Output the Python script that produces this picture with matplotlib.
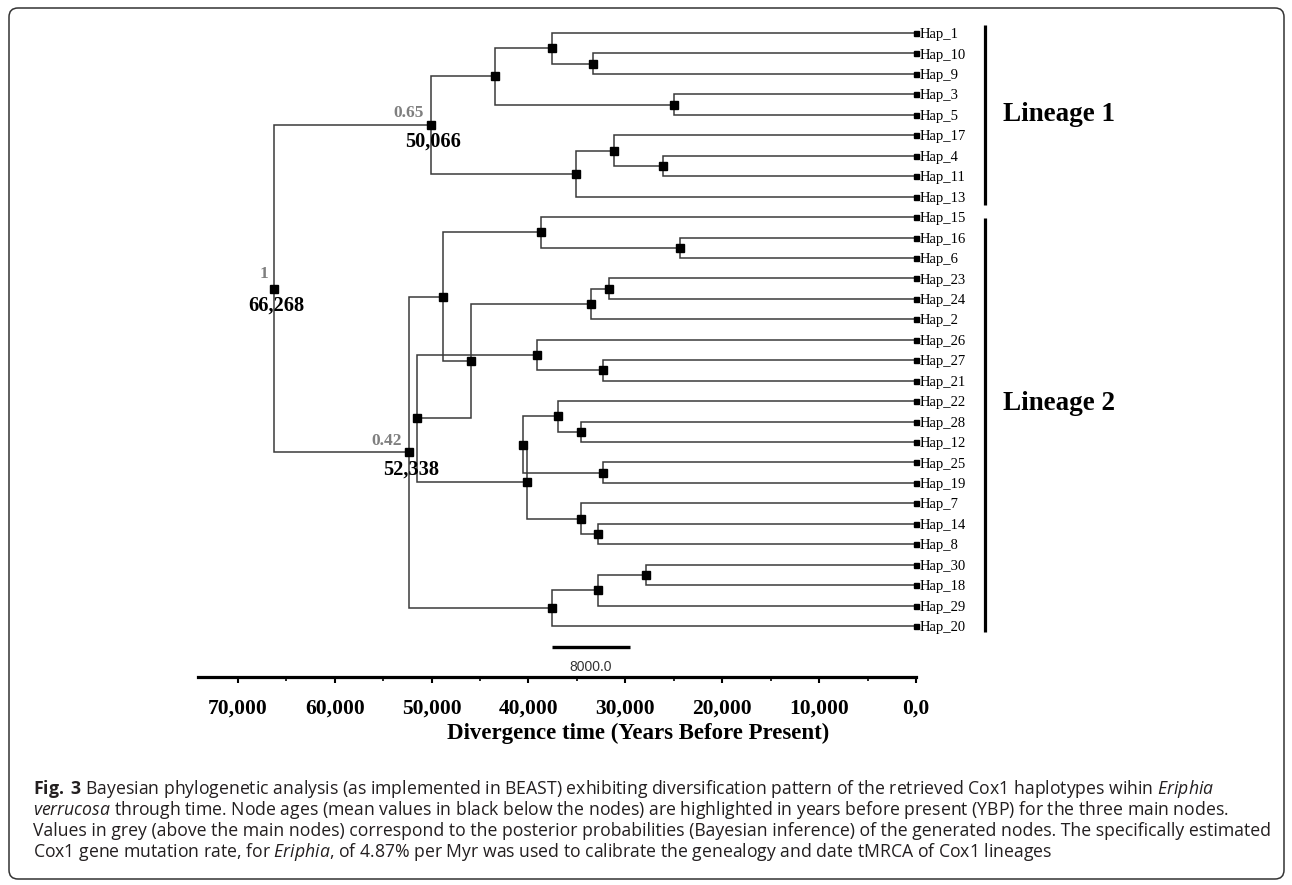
import matplotlib
matplotlib.use("Agg")
import matplotlib.pyplot as plt
from matplotlib.patches import FancyBboxPatch
from matplotlib.transforms import IdentityTransform

# haplotypes, top to bottom
tip_labels = ["Hap_1", "Hap_10", "Hap_9", "Hap_3", "Hap_5", "Hap_17", "Hap_4", "Hap_11", "Hap_13",
              "Hap_15", "Hap_16", "Hap_6", "Hap_23", "Hap_24", "Hap_2", "Hap_26", "Hap_27", "Hap_21",
              "Hap_22", "Hap_28", "Hap_12", "Hap_25", "Hap_19", "Hap_7", "Hap_14", "Hap_8",
              "Hap_30", "Hap_18", "Hap_29", "Hap_20"]

# internal nodes: age in years before present + children
node_names = ["root", "L1", "A", "B", "C", "D", "E", "F", "G",
              "L2", "N1", "N1a", "N1b", "N2", "N2a", "N2b", "N3", "N3a", "N3b",
              "Q", "P", "P1", "P1a", "P2", "R", "R2", "N7", "S", "T"]
node_ages = [66268, 50066, 43450, 37570, 33340, 24980, 35100, 31170, 26120,
             52338, 48820, 38710, 24360, 45930, 33550, 31690, 51510, 39120, 32310,
             40150, 40570, 36950, 34580, 32310, 34580, 32820, 37570, 32820, 27870]
node_children = [["L1", "L2"], ["A", "E"], ["B", "D"], ["Hap_1", "C"], ["Hap_10", "Hap_9"],
                 ["Hap_3", "Hap_5"], ["F", "Hap_13"], ["Hap_17", "G"], ["Hap_4", "Hap_11"],
                 ["N1", "N7"], ["N1a", "N2"], ["Hap_15", "N1b"], ["Hap_16", "Hap_6"],
                 ["N2a", "N3"], ["N2b", "Hap_2"], ["Hap_23", "Hap_24"], ["N3a", "Q"],
                 ["Hap_26", "N3b"], ["Hap_27", "Hap_21"], ["P", "R"], ["P1", "P2"],
                 ["Hap_22", "P1a"], ["Hap_28", "Hap_12"], ["Hap_25", "Hap_19"],
                 ["Hap_7", "R2"], ["Hap_14", "Hap_8"], ["S", "Hap_20"], ["T", "Hap_29"],
                 ["Hap_30", "Hap_18"]]

# annotated main nodes
main_nodes = ["root", "L1", "L2"]
posterior = ["1", "0.65", "0.42"]
age_text = ["66,268", "50,066", "52,338"]

lineage_names = ["Lineage 1", "Lineage 2"]
lineage_tips = [("Hap_1", "Hap_13"), ("Hap_15", "Hap_20")]

axis_ticks = [70000, 60000, 50000, 40000, 30000, 20000, 10000, 0]
axis_tick_labels = ["70,000", "60,000", "50,000", "40,000", "30,000", "20,000", "10,000", "0,0"]
axis_minor = [65000, 55000, 45000, 35000, 25000, 15000, 5000]
axis_start = 74100
scale_bar = 8000
scale_bar_start = 37570

caption = [
    r"$\mathbf{Fig.}$ $\mathbf{3}$ Bayesian phylogenetic analysis (as implemented in BEAST) exhibiting diversification pattern of the retrieved Cox1 haplotypes wihin $\mathit{Eriphia}$",
    r"$\mathit{verrucosa}$ through time. Node ages (mean values in black below the nodes) are highlighted in years before present (YBP) for the three main nodes.",
    "Values in grey (above the main nodes) correspond to the posterior probabilities (Bayesian inference) of the generated nodes. The specifically estimated",
    r"Cox1 gene mutation rate, for $\mathit{Eriphia}$, of 4.87% per Myr was used to calibrate the genealogy and date tMRCA of Cox1 lineages",
]

plt.rcParams["mathtext.fontset"] = "custom"
plt.rcParams["mathtext.rm"] = "Open Sans"
plt.rcParams["mathtext.it"] = "Open Sans:italic"
plt.rcParams["mathtext.bf"] = "Open Sans:bold"

W, H = 1292, 885
SERIF = "Liberation Serif"
LINE = "#3a3a3a"
px_per_year = 0.009688   # horizontal scale of the tree
tip_px = 916
row_px, first_row_px = 20.45, 33

fig = plt.figure(figsize=(W / 100, H / 100), dpi=100)
ax = fig.add_axes([0, 0, 1, 1])
ax.set_xlim(tip_px / px_per_year, (tip_px - W) / px_per_year)
ax.set_ylim((H - first_row_px) / row_px, -first_row_px / row_px)
ax.axis("off")

# layout: tips on rows, internal node at middle of its children
ages = dict(zip(node_names, node_ages))
kids = dict(zip(node_names, node_children))
ypos = {t: i for i, t in enumerate(tip_labels)}
for t in tip_labels:
    ages[t] = 0.0


def place(n):
    if n in ypos:
        return ypos[n]
    ys = [place(c) for c in kids[n]]
    ypos[n] = (min(ys) + max(ys)) / 2
    return ypos[n]


place("root")

for n in node_names:
    for c in kids[n]:
        ax.plot([ages[n], ages[n], ages[c]], [ypos[n], ypos[c], ypos[c]],
                color=LINE, lw=1.1, solid_joinstyle="miter", zorder=1)

ax.plot([ages[n] for n in node_names], [ypos[n] for n in node_names], "s",
        ms=5.8, color="black", zorder=3)
ax.plot([0] * len(tip_labels), range(len(tip_labels)), "s", ms=3.6, color="black", zorder=3)

for i, t in enumerate(tip_labels):
    ax.annotate(t, (0, i), xytext=(2.3, -3.7), textcoords="offset points",
                ha="left", va="baseline", fontsize=10.5, family=SERIF)

# posterior probabilities (grey) and node ages (black)
sup_off = {"root": (-4, 10.5), "L1": (-5, 8.5), "L2": (-5, 8.5)}
for n, p, a in zip(main_nodes, posterior, age_text):
    ax.annotate(p, (ages[n], ypos[n]), xytext=sup_off[n], textcoords="offset points",
                ha="right", va="center", fontsize=12.5, fontweight="bold",
                color="#7f7f7f", family=SERIF)
    ax.annotate(a, (ages[n], ypos[n]), xytext=(1.5, -12), textcoords="offset points",
                ha="center", va="center", fontsize=14.7, fontweight="bold",
                color="black", family=SERIF)

# lineage bars
bar_x = -69 / px_per_year
pads = [(0.4, 0.4), (-0.05, 0.3)]
for name, (t0, t1), (p0, p1) in zip(lineage_names, lineage_tips, pads):
    y0, y1 = ypos[t0] - p0, ypos[t1] + p1
    ax.plot([bar_x, bar_x], [y0, y1], color="black", lw=2.3, solid_capstyle="butt")
    ymid = (ypos[t0] + ypos[t1]) / 2 if name == "Lineage 1" else 18.1
    ax.annotate(name, (bar_x, ymid), xytext=(13, 0), textcoords="offset points",
                ha="left", va="center", fontsize=19.5, fontweight="bold", family=SERIF)

# scale bar
ax.plot([scale_bar_start, scale_bar_start - scale_bar], [30.02, 30.02],
        color="black", lw=2.4, solid_capstyle="butt")
ax.text(scale_bar_start - scale_bar / 2, 31.0, f"{scale_bar:.1f}", ha="center", va="center",
        fontsize=10, family="Liberation Sans", color="#333333")

# time axis
ax2 = fig.add_axes([0, 1 - 677 / H, 1, 0.0001])
ax2.set_xlim(ax.get_xlim())
ax2.patch.set_visible(False)
for s in ["left", "right", "top"]:
    ax2.spines[s].set_visible(False)
ax2.spines["bottom"].set_bounds(axis_start, 0)
ax2.spines["bottom"].set_linewidth(2.3)
ax2.set_yticks([])
ax2.set_xticks(axis_ticks)
ax2.set_xticklabels(axis_tick_labels, fontsize=15.5, fontweight="bold", family=SERIF)
ax2.set_xticks(axis_minor, minor=True)
ax2.tick_params(axis="x", which="major", length=4.5, width=1.5, direction="out", pad=11)
ax2.tick_params(axis="x", which="minor", length=3, width=1.2, direction="out")

fig.text(638 / W, 1 - 733 / H, "Divergence time (Years Before Present)", ha="center",
         va="center", fontsize=16.5, fontweight="bold", family=SERIF)

# caption
for k, line in enumerate(caption):
    fig.text(33 / W, 1 - (794 + 21 * k) / H, line, ha="left", va="baseline",
             fontsize=12.7, family="Open Sans", color="#231f20")

# rounded frame
frame = FancyBboxPatch((9, H - 879), 1284 - 9, 879 - 8, boxstyle="round,pad=0,rounding_size=9",
                       transform=IdentityTransform(), fill=False, edgecolor="#333333", lw=1.1)
fig.patches.append(frame)

fig.savefig("out.png", dpi=100)
